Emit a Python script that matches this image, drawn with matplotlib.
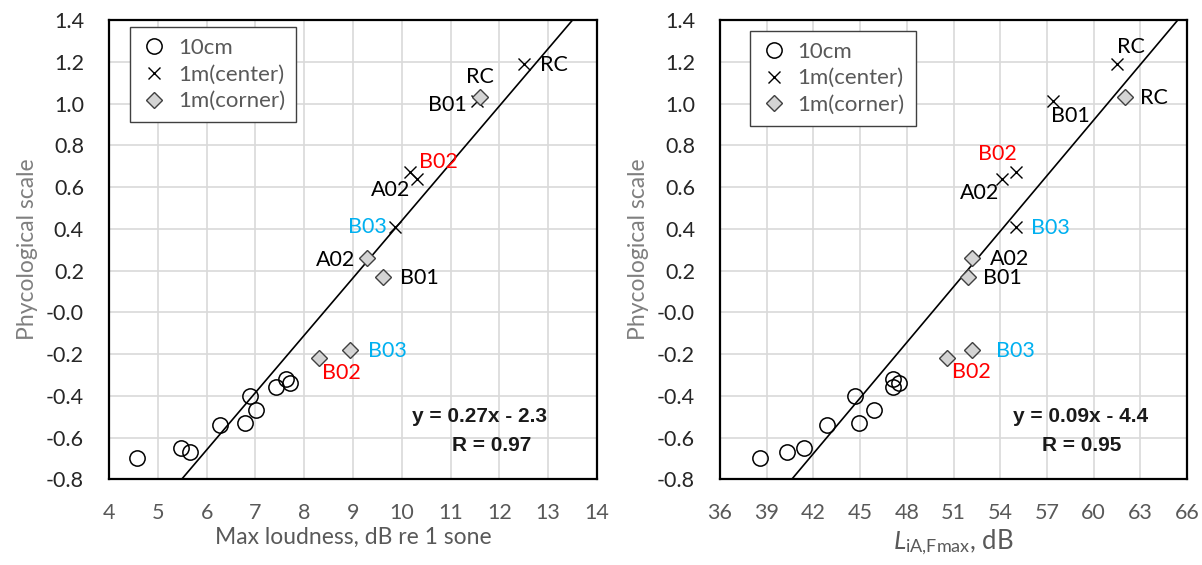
import matplotlib
matplotlib.use("Agg")
import matplotlib.pyplot as plt
import numpy as np
from matplotlib.lines import Line2D

plt.rcParams['font.family'] = ['Lato', 'DejaVu Sans']
plt.rcParams['mathtext.fontset'] = 'custom'
plt.rcParams['mathtext.rm'] = 'Lato'
plt.rcParams['mathtext.it'] = 'Lato:italic'

# ---------------- data ----------------
y_10cm = [-0.70, -0.65, -0.67, -0.54, -0.53, -0.40, -0.47, -0.36, -0.32, -0.34]
loud_10cm = [4.58, 5.48, 5.67, 6.27, 6.78, 6.89, 7.02, 7.43, 7.62, 7.71]
laf_10cm = [38.6, 41.4, 40.3, 42.9, 44.9, 44.7, 45.9, 47.1, 47.1, 47.5]

labels_center = ["RC", "B01", "B02", "A02", "B03"]
y_center = [1.19, 1.01, 0.67, 0.64, 0.41]
loud_center = [12.51, 11.55, 10.16, 10.32, 9.87]
laf_center = [61.5, 57.4, 55.0, 54.1, 55.0]

labels_corner = ["RC", "A02", "B01", "B02", "B03"]
y_corner = [1.03, 0.26, 0.17, -0.22, -0.18]
loud_corner = [11.60, 9.29, 9.61, 8.31, 8.94]
laf_corner = [62.0, 52.2, 51.9, 50.6, 52.2]

fit_left = (0.2746, -2.307)
fit_right = (0.0887, -4.402)
eq_left = ["y = 0.27x - 2.3", "R = 0.97"]
eq_right = ["y = 0.09x - 4.4", "R = 0.95"]

label_color = {"RC": "black", "B01": "black", "A02": "black",
               "B02": "#ff0000", "B03": "#00b0f0"}

# label offsets in pixels (dx, dy)
off_left_center = {"RC": (30, -1), "B01": (-30, -4), "B02": (29, 10),
                   "A02": (-27, -11), "B03": (-28, 0)}
off_left_corner = {"RC": (0, 20), "A02": (-32, -2), "B01": (37, -1),
                   "B02": (22, -15), "B03": (37, -1)}
off_right_center = {"RC": (14, 17), "B01": (17, -15), "B02": (-18, 18),
                    "A02": (-22, -14), "B03": (35, -1)}
off_right_corner = {"RC": (29, -1), "A02": (37, -1), "B01": (35, -1),
                    "B02": (24, -14), "B03": (43, -1)}

W, H = 1202, 565
fig = plt.figure(figsize=(W / 100, H / 100), dpi=100)
axL = fig.add_axes([109 / W, 1 - 479.3 / H, 488 / W, 459.3 / H])
axR = fig.add_axes([720 / W, 1 - 479.3 / H, 467 / W, 459.3 / H])

px2pt = 0.72
diamond_fc = "#d4d4d4"
FS_TICK = 15.5
FS_LAB = 15.5
FS_AX = 16.5


def draw(ax, x10, xc, xco, fit, eq, offc, offco, xlim, xticks, xlabel,
         xlabel_fs, eqpos, legpos):
    ax.set_xlim(*xlim)
    ax.set_ylim(-0.8, 1.4)
    ax.set_xticks(xticks)
    yt = np.arange(-0.8, 1.41, 0.2)
    ax.set_yticks(yt)
    ax.set_yticklabels([f"{v:.1f}" for v in yt])
    ax.grid(True, color="#d9d9d9", lw=1.2)
    ax.set_axisbelow(True)
    for s in ax.spines.values():
        s.set_color("black")
        s.set_linewidth(1.6)
    ax.tick_params(length=0, labelsize=FS_TICK)
    ax.tick_params(axis='x', pad=17, labelcolor="#595959")
    ax.tick_params(axis='y', pad=18, labelcolor="#262626")
    ax.set_ylabel("Phycological scale", fontsize=FS_AX, color="#7f7f7f",
                  labelpad=6)
    ax.set_xlabel(xlabel, fontsize=xlabel_fs, color="#595959", labelpad=3)

    # fit line
    xs = np.array(xlim, dtype=float)
    ax.plot(xs, fit[0] * xs + fit[1], color="black", lw=1.2, zorder=2)

    ax.plot(x10, y_10cm, ls="none", marker="o", ms=11, mfc="none",
            mec="black", mew=1.1, zorder=3)
    ax.plot(xc, y_center, ls="none", marker="x", ms=9, mec="black",
            mew=1.0, zorder=3)
    ax.plot(xco, y_corner, ls="none", marker="D", ms=8.5, mfc=diamond_fc,
            mec="#404040", mew=1.0, zorder=3)

    for lab, x, y in zip(labels_center, xc, y_center):
        dx, dy = offc[lab]
        ax.annotate(lab, (x, y), xytext=(dx * px2pt, dy * px2pt),
                    textcoords="offset points", ha="center", va="center",
                    fontsize=FS_LAB, color=label_color[lab])
    for lab, x, y in zip(labels_corner, xco, y_corner):
        dx, dy = offco[lab]
        ax.annotate(lab, (x, y), xytext=(dx * px2pt, dy * px2pt),
                    textcoords="offset points", ha="center", va="center",
                    fontsize=FS_LAB, color=label_color[lab])

    ax.text(eqpos[0], 0.136, eq[0], transform=ax.transAxes, ha="center",
            va="center", fontsize=15, fontweight="bold",
            family="Liberation Sans", color="#1a1a1a")
    ax.text(eqpos[1], 0.073, eq[1], transform=ax.transAxes, ha="center",
            va="center", fontsize=15, fontweight="bold",
            family="Liberation Sans", color="#1a1a1a")

    handles = [
        Line2D([], [], ls="none", marker="o", ms=11, mfc="none", mec="black", mew=1.1),
        Line2D([], [], ls="none", marker="x", ms=9, mec="black", mew=1.0),
        Line2D([], [], ls="none", marker="D", ms=8.5, mfc=diamond_fc, mec="#404040", mew=1.0),
    ]
    leg = ax.legend(handles, ["10cm", "1m(center)", "1m(corner)"],
                    loc="upper left", bbox_to_anchor=legpos,
                    fontsize=16, frameon=True, fancybox=False,
                    edgecolor="#404040", framealpha=1, borderpad=0.5,
                    labelspacing=0.3, handletextpad=0.5, handlelength=1.15,
                    borderaxespad=0)
    leg.get_frame().set_linewidth(1.0)
    for t in leg.get_texts():
        t.set_color("#595959")


draw(axL, loud_10cm, loud_center, loud_corner, fit_left, eq_left,
     off_left_center, off_left_corner, (4, 14), np.arange(4, 15, 1),
     "Max loudness, dB re 1 sone", FS_AX, (0.759, 0.784), (0.043, 0.985))
draw(axR, laf_10cm, laf_center, laf_corner, fit_right, eq_right,
     off_right_center, off_right_corner, (36, 66), np.arange(36, 67, 3),
     r"$\mathit{L}_{\mathrm{iA{,}Fmax}}$, dB", 18.5, (0.772, 0.775),
     (0.064, 0.977))

fig.savefig("out.png", dpi=100)
